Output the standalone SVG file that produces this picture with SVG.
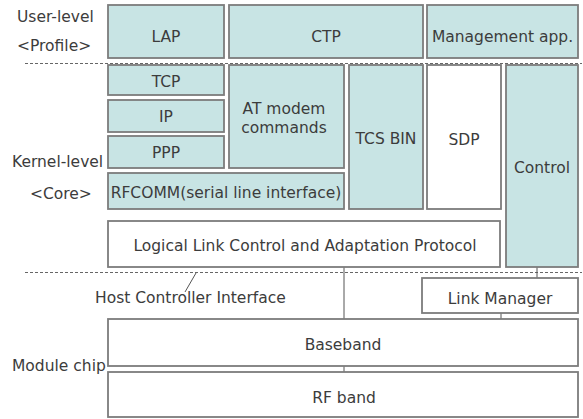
<svg xmlns="http://www.w3.org/2000/svg" width="583" height="419" viewBox="0 0 583 419">
<style>
.b{fill:#c8e4e4;stroke:#7c7c7c;stroke-width:1.8}
.w{fill:#ffffff;stroke:#7c7c7c;stroke-width:1.8}
text{font-family:"DejaVu Sans","Liberation Sans",Arial,sans-serif;font-size:15.5px;fill:#3c3c3c}
.c{text-anchor:middle}
.d{stroke:#666;stroke-width:1;stroke-dasharray:3,2;fill:none}
.l{stroke:#555;stroke-width:1;fill:none}
</style>
<rect width="583" height="419" fill="#ffffff"/>
<g id="separators">
<line class="d" x1="25" y1="63.5" x2="582" y2="63.5"/>
<line class="d" x1="25" y1="272.5" x2="582" y2="272.5"/>
</g>
<g id="labels">
<text x="17" y="22">User-level</text>
<text x="17" y="51">&lt;Profile&gt;</text>
<text x="12" y="167">Kernel-level</text>
<text x="30" y="199">&lt;Core&gt;</text>
<text x="12" y="371">Module chip</text>
<text x="95" y="303">Host Controller Interface</text>
</g>
<g id="connectors">
<line class="l" x1="344" y1="267" x2="344" y2="319"/>
<line class="l" x1="537" y1="267" x2="537" y2="278"/>
<line class="l" x1="501" y1="313" x2="501" y2="319"/>
<line class="l" x1="344" y1="366" x2="344" y2="372"/>
<line class="l" x1="196" y1="273" x2="185" y2="292"/>
</g>
<g id="LAP"><rect class="b" x="108" y="5" width="116" height="53"/><text class="c" x="166" y="42">LAP</text></g>
<g id="CTP"><rect class="b" x="229" y="5" width="194" height="53"/><text class="c" x="326" y="42">CTP</text></g>
<g id="MGMT"><rect class="b" x="427" y="5" width="151" height="53"/><text class="c" x="502.5" y="42">Management app.</text></g>
<g id="TCP"><rect class="b" x="108" y="65" width="116" height="30"/><text class="c" x="166" y="87">TCP</text></g>
<g id="IP"><rect class="b" x="108" y="100" width="116" height="32"/><text class="c" x="166" y="122">IP</text></g>
<g id="PPP"><rect class="b" x="108" y="136" width="116" height="32"/><text class="c" x="166" y="158">PPP</text></g>
<g id="AT"><rect class="b" x="229" y="65" width="115" height="103"/><text class="c" x="284" y="114">AT modem</text><text class="c" x="284" y="133">commands</text></g>
<g id="TCSBIN"><rect class="b" x="349" y="65" width="74" height="144"/><text class="c" x="386" y="144">TCS BIN</text></g>
<g id="SDP"><rect class="w" x="427" y="65" width="74" height="144"/><text class="c" x="464" y="145">SDP</text></g>
<g id="Control"><rect class="b" x="506" y="65" width="72" height="202"/><text class="c" x="542" y="173">Control</text></g>
<g id="RFCOMM"><rect class="b" x="108" y="173" width="236" height="36"/><text class="c" x="226" y="198">RFCOMM(serial line interface)</text></g>
<g id="L2CAP"><rect class="w" x="108" y="221" width="392" height="46"/><text class="c" x="305" y="251">Logical Link Control and Adaptation Protocol</text></g>
<g id="LinkManager"><rect class="w" x="422" y="278" width="156" height="35"/><text class="c" x="500" y="304">Link Manager</text></g>
<g id="Baseband"><rect class="w" x="108" y="319" width="470" height="47"/><text class="c" x="343" y="350">Baseband</text></g>
<g id="RFband"><rect class="w" x="108" y="372" width="470" height="45"/><text class="c" x="344" y="403">RF band</text></g>
</svg>
